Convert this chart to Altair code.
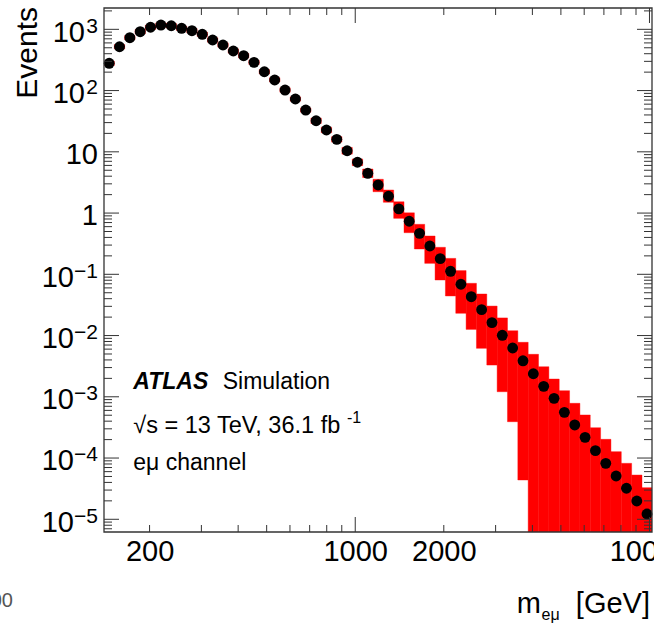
import altair as alt
import pandas as pd

# ---- data -------------------------------------------------------------
# m_emu bin edges [GeV] (logarithmic binning)
bin_edges = [140.0, 151.8, 164.6, 178.5, 193.5, 209.9, 227.6, 246.8, 267.6, 290.1,
             314.6, 341.1, 369.9, 401.1, 434.9, 471.6, 511.3, 554.5, 601.2, 651.9,
             706.9, 766.5, 831.2, 901.2, 977.2, 1059.7, 1149.0, 1245.9, 1351.0, 1464.9,
             1588.5, 1722.4, 1867.7, 2025.2, 2196.0, 2381.2, 2582.0, 2799.7, 3035.8, 3291.8,
             3569.4, 3870.5, 4196.9, 4550.8, 4934.6, 5350.7, 5802.0, 6291.3, 6821.8, 7397.1,
             8020.9, 8697.3, 9430.8, 10200.0]

# expected events per bin
events = [279, 520, 730, 915, 1080, 1175, 1145, 1040, 950, 830,
          670, 555, 443, 371, 289, 203, 149, 102, 72.8, 48.1,
          32.2, 22.7, 16.0, 10.4, 6.75, 4.46, 2.87, 1.88, 1.17, 0.736,
          0.467, 0.290, 0.180, 0.112, 0.0689, 0.0431, 0.0265, 0.0163, 0.0101, 0.00627,
          0.00387, 0.00238, 0.00148, 0.000944, 0.000558, 0.000347, 0.000218, 0.000132, 8.2e-5, 5.09e-5,
          3.21e-5, 1.99e-5, 1.22e-5]

# upper / lower edge of the uncertainty band (None: band reaches zero)
band_hi = [302, 564, 791, 992, 1171, 1274, 1241, 1127, 1030, 900,
           726, 602, 480, 402, 313, 220, 162, 111, 78.9, 52.1,
           35.7, 25.2, 17.7, 11.8, 7.66, 5.24, 3.56, 2.38, 1.53, 1.01,
           0.655, 0.422, 0.276, 0.182, 0.115, 0.0713, 0.0477, 0.0303, 0.0194, 0.0120,
           0.00776, 0.00494, 0.00310, 0.00195, 0.00126, 0.000783, 0.000505, 0.000313, 0.000202, 0.000127,
           8.2e-5, 5.28e-5, 3.28e-5]
band_lo = [257, 480, 674, 845, 997, 1085, 1057, 960, 877, 766,
           618, 512, 409, 342, 267, 187, 138, 94, 67.2, 44.4,
           29.0, 20.5, 14.4, 9.16, 5.95, 3.80, 2.23, 1.50, 0.820, 0.478,
           0.259, 0.151, 0.0807, 0.0443, 0.0231, 0.0126, 0.00619, 0.00330, 0.00121, 0.000392,
           4.38e-5, None, None, None, None, None, None, None, None, None,
           None, None, None]

# axis labels
x_label_values = [200, 1000, 2000, 10000]
y_pos_exp_vals, y_pos_exp_txt = [1000, 100], ["3", "2"]
y_plain_vals, y_plain_txt = [10, 1], ["10", "1"]
y_neg_exp_vals = [0.1, 0.01, 1e-3, 1e-4, 1e-5]
y_neg_exp_txt = ["\u22121", "\u22122", "\u22123", "\u22124", "\u22125"]

# ---- layout -----------------------------------------------------------
W, H = 548, 524
X_MIN, X_MAX = 140, 10200
Y_MIN, Y_MAX = 6.2e-6, 2230
FONT = "Liberation Sans"
TICK_C = "#333333"

XS = alt.Scale(type="log", domain=[X_MIN, X_MAX], nice=False)
YS = alt.Scale(type="log", domain=[Y_MIN, Y_MAX], nice=False)
XAX = alt.Axis(values=x_label_values, format="d", ticks=False, domain=False, grid=False,
               labelFont=FONT, labelFontSize=29, labelColor="black", labelPadding=5,
               labelFlush=False, labelOverlap=False, title=None)

df = pd.DataFrame({
    "x_lo": bin_edges[:-1],
    "x_hi": bin_edges[1:],
    "ev": events,
    "b_hi": band_hi,
    "b_lo": [v if v is not None else Y_MIN for v in band_lo],
})
df["xc"] = (df["x_lo"] * df["x_hi"]) ** 0.5

band = alt.Chart(df).mark_rect(color="#ff0000", stroke="#ff0000", strokeWidth=0.4,
                               clip=True).encode(
    x=alt.X("x_lo:Q", scale=XS, axis=XAX), x2="x_hi",
    y=alt.Y("b_lo:Q", scale=YS, axis=None), y2="b_hi",
)

points = alt.Chart(df).mark_circle(size=118, color="black", opacity=1).encode(
    x=alt.X("xc:Q", scale=XS, axis=XAX),
    y=alt.Y("ev:Q", scale=YS, axis=None),
)

# inward ticks on all four sides (ROOT style)
x_minor = [m * 10 ** e for e in (2, 3) for m in range(2, 10) if X_MIN < m * 10 ** e < X_MAX]
x_major = [v for v in (100, 1000, 10000) if X_MIN < v < X_MAX]
y_minor = [m * 10.0 ** e for e in range(-6, 4) for m in range(2, 10) if Y_MIN < m * 10.0 ** e < Y_MAX]
y_major = [10.0 ** e for e in range(-6, 4) if Y_MIN < 10.0 ** e < Y_MAX]


def x_ticks(vals, length):
    d = pd.DataFrame({"t": vals})
    base = alt.Chart(d).mark_rule(color=TICK_C, strokeWidth=1)
    bottom = base.encode(x=alt.X("t:Q", scale=XS, axis=XAX),
                         y=alt.value(H), y2=alt.value(H - length))
    top = base.encode(x=alt.X("t:Q", scale=XS, axis=XAX),
                      y=alt.value(0), y2=alt.value(length))
    return [bottom, top]


def y_ticks(vals, length):
    d = pd.DataFrame({"t": vals})
    base = alt.Chart(d).mark_rule(color=TICK_C, strokeWidth=1)
    left = base.encode(y=alt.Y("t:Q", scale=YS, axis=None),
                       x=alt.value(0), x2=alt.value(length))
    right = base.encode(y=alt.Y("t:Q", scale=YS, axis=None),
                        x=alt.value(W), x2=alt.value(W - length))
    return [left, right]


ticks = x_ticks(x_minor, 7) + x_ticks(x_major, 15) + y_ticks(y_minor, 8) + y_ticks(y_major, 15)

frame = alt.Chart(pd.DataFrame({"a": [0]})).mark_rect(
    filled=False, stroke="#333333", strokeWidth=1.3).encode(
    x=alt.value(0), x2=alt.value(W), y=alt.value(0), y2=alt.value(H))


# y axis labels: 10 with superscript exponent
def ylab(vals, txt, x, dy, size):
    d = pd.DataFrame({"v": vals, "t": txt})
    return alt.Chart(d).mark_text(align="right", baseline="alphabetic", dy=dy, font=FONT,
                                  fontSize=size, color="black").encode(
        y=alt.Y("v:Q", scale=YS, axis=None), x=alt.value(x), text="t:N")


ylabels = [
    ylab(y_pos_exp_vals, ["10"] * len(y_pos_exp_vals), -19, 12.4, 29),
    ylab(y_pos_exp_vals, y_pos_exp_txt, -6, 3.4, 21),
    ylab(y_plain_vals, y_plain_txt, -6, 12.4, 29),
    ylab(y_neg_exp_vals, ["10"] * len(y_neg_exp_vals), -30, 12.4, 29),
    ylab(y_neg_exp_vals, y_neg_exp_txt, -6, 3.4, 21),
]


def label(text, x, y, size, align="left", weight="normal", style="normal", angle=0,
          color="black"):
    kw = dict(align=align, baseline="alphabetic", font=FONT, fontSize=size,
              fontWeight=weight, fontStyle=style, color=color)
    if angle:
        kw["angle"] = angle
    return alt.Chart(pd.DataFrame({"t": [text]})).mark_text(**kw).encode(
        x=alt.value(x), y=alt.value(y), text="t:N")


texts = [
    label("Events", -67, -1, 30, align="right", angle=270),
    label("m", 412.7, 605.3, 29),
    label("e\u03bc", 437.5, 611.5, 16),
    label("[GeV]", 546, 605.3, 29, align="right"),
    label("ATLAS", 29.3, 381.3, 23, weight="bold", style="italic"),
    label("Simulation", 118.7, 381.3, 23),
    label("\u221as = 13 TeV, 36.1 fb", 29.3, 425.3, 23.5),
    label("-1", 243, 415, 16),
    label("e\u03bc channel", 29.3, 462, 23),
    label("00", -91, 598.7, 20, align="right", color="#555555"),
]

chart = alt.layer(band, points, *ticks, frame, *ylabels, *texts).properties(
    width=W, height=H,
    padding={"left": 104, "top": 8, "right": 2, "bottom": 92},
    autosize=alt.AutoSizeParams(type="none"),
    background="white",
).configure_view(strokeWidth=0)

chart.save("out.html", embed_options={"renderer": "svg", "actions": False})
